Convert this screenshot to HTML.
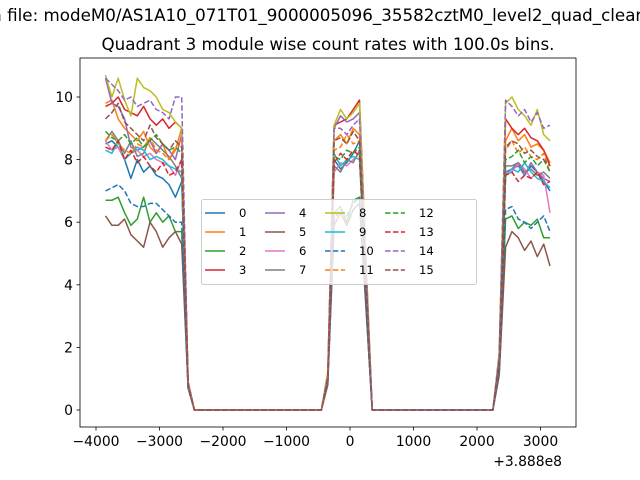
<!DOCTYPE html>
<html><head><meta charset="utf-8"><style>
html,body{margin:0;padding:0;background:#fff;}
svg{display:block;font-family:"DejaVu Sans","Liberation Sans",sans-serif;}
</style></head><body>
<svg id="chart" width="640" height="480" viewBox="0 0 640 480">
<rect x="0" y="0" width="640" height="480" fill="#fff"/>
<text x="320" y="21" font-size="16.7" text-anchor="middle">Data file: modeM0/AS1A10_071T01_9000005096_35582cztM0_level2_quad_clean.evt</text>
<text x="328" y="50" font-size="16.7" text-anchor="middle">Quadrant 3 module wise count rates with 100.0s bins.</text>
<g id="plot"></g>
<g id="axes"></g>
<g id="legend"></g>
<text x="562" y="466" font-size="13.9" text-anchor="end">+3.888e8</text>
</svg>
<script>
const times = [-3850,-3750,-3650,-3550,-3450,-3350,-3250,-3150,-3050,-2950,-2850,-2750,-2650,-2550,-2450,-2350,-2250,-2150,-2050,-1950,-1850,-1750,-1650,-1550,-1450,-1350,-1250,-1150,-1050,-950,-850,-750,-650,-550,-450,-350,-250,-150,-50,50,150,250,350,450,550,650,750,850,950,1050,1150,1250,1350,1450,1550,1650,1750,1850,1950,2050,2150,2250,2350,2450,2550,2650,2750,2850,2950,3050,3150];
const seriesNames = ["0","1","2","3","4","5","6","7","8","9","10","11","12","13","14","15"];
const left = [
[8.5,8.6,8.4,8.0,7.4,8.0,7.6,7.8,7.5,7.4,7.2,6.8,7.3],
[9.8,9.9,9.3,9.0,8.8,8.6,8.9,8.4,8.2,8.5,8.0,8.3,9.0],
[6.7,6.7,6.8,6.3,5.9,6.1,6.8,6.0,6.3,6.0,6.2,5.7,5.7],
[9.7,9.8,10.0,9.6,9.5,9.4,9.7,9.3,9.1,9.3,9.0,9.2,9.0],
[10.6,9.8,9.7,9.3,8.4,8.3,8.4,8.6,8.2,8.5,8.3,8.0,8.8],
[6.2,5.9,5.9,6.1,5.6,5.4,5.2,6.0,5.7,5.2,5.5,5.7,5.3],
[8.6,8.3,8.4,8.0,8.2,8.3,8.1,8.2,8.0,7.9,7.8,7.5,8.0],
[8.6,8.9,8.6,8.2,8.6,8.1,8.2,8.7,8.5,8.3,8.1,7.8,7.4],
[10.7,10.0,10.6,9.9,9.4,10.6,10.3,10.2,10.0,9.6,9.5,9.2,9.0],
[8.3,8.2,8.6,8.0,8.2,8.4,8.3,8.0,8.1,8.0,7.8,7.7,7.6],
[7.0,7.1,7.2,7.0,6.6,6.5,6.5,6.6,6.6,6.4,6.2,6.0,6.0],
[8.6,8.8,8.5,8.3,8.2,8.5,8.4,8.7,8.3,8.2,8.0,8.4,8.6],
[8.9,8.7,8.6,8.8,8.5,8.7,8.4,8.6,8.8,8.5,8.3,8.4,8.2],
[8.4,8.3,8.6,8.0,8.3,7.9,8.1,7.8,7.6,7.9,7.5,7.6,8.0],
[10.6,10.4,10.2,9.9,10.0,9.7,9.8,9.9,9.6,9.5,9.3,10.0,10.0],
[9.3,9.5,9.8,9.2,9.0,8.8,8.6,9.1,8.7,8.5,8.3,8.6,8.4]];
const dropLeft = [0.8,0.9,0.7,0.9,0.8,0.7,0.8,0.8,0.9,0.8,0.7,0.8,0.8,0.8,0.9,0.8];
const gapLeft = [0,0,0,0,0,0,0,0,0,0,0,0,0,0,0,0,0,0,0,0,0];
const riseMid = [1.0,1.1,0.9,1.2,1.1,0.8,1.0,1.0,1.2,1.0,0.9,1.1,1.0,1.0,1.1,1.0];
const mid = [
[8.0,7.7,7.9,8.2,8.6],[8.6,8.8,8.5,9.0,8.8],[6.3,6.5,6.0,6.7,6.8],[9.1,9.2,9.3,9.6,9.9],
[9.0,9.4,9.2,9.3,9.5],[5.9,6.3,5.9,6.4,6.6],[7.6,7.9,7.8,8.0,8.2],[7.8,7.6,8.0,7.9,8.3],
[9.1,9.6,9.3,9.5,9.8],[8.2,7.8,8.0,8.1,8.0],[6.1,6.4,6.2,6.6,6.8],[8.3,8.4,8.8,8.5,8.6],
[8.1,8.0,8.3,8.2,8.4],[7.9,8.2,8.0,8.3,8.1],[9.0,9.0,8.8,9.1,9.3],[8.6,8.7,8.5,8.9,8.6]];
const dropMid = [4.2,4.4,3.4,4.9,4.6,3.3,4.0,4.1,4.8,4.0,3.4,4.3,4.2,4.0,4.6,4.3];
const gapRight = [0,0,0,0,0,0,0,0,0,0,0,0,0,0,0,0,0,0,0,0];
const riseRight = [1.4,1.6,1.2,1.7,1.5,1.1,1.4,1.5,1.8,1.4,1.2,1.6,1.5,1.4,1.8,1.6];
const right = [
[7.6,7.7,7.9,7.5,7.8,7.6,7.3,7.0],[8.6,9.0,8.6,8.8,8.4,8.5,8.3,7.9],[6.1,6.2,5.8,6.0,5.9,6.1,5.5,5.5],
[9.3,9.0,8.8,9.0,8.7,8.6,8.3,7.8],[7.6,7.7,7.8,7.5,7.9,7.6,7.4,7.3],[5.2,5.7,5.5,5.1,5.4,4.9,5.3,4.6],
[7.5,7.6,7.9,7.7,7.4,7.6,7.5,6.3],[7.8,7.8,7.9,7.6,7.7,7.5,7.6,7.4],[9.8,10.0,9.6,9.4,9.1,9.6,8.8,8.6],
[7.5,7.7,7.6,7.9,7.6,7.4,7.3,7.1],[6.4,6.5,6.1,6.0,5.8,6.0,6.2,5.7],[8.3,8.6,8.2,8.4,8.1,8.0,8.2,7.6],
[8.0,8.1,8.3,7.9,8.1,7.8,8.0,7.6],[7.5,7.6,7.3,7.5,7.4,7.6,7.2,7.3],[9.9,9.7,9.4,9.6,9.2,9.5,9.0,9.1],
[8.4,8.6,8.5,8.2,8.3,8.1,8.0,7.8]];
const xTicks = [-4000,-3000,-2000,-1000,0,1000,2000,3000];
const xTickLabels = ["\u22124000","\u22123000","\u22122000","\u22121000","0","1000","2000","3000"];
const yTicks = [0,2,4,6,8,10];

const NS = "http://www.w3.org/2000/svg";
const colors = ["#1f77b4","#ff7f0e","#2ca02c","#d62728","#9467bd","#8c564b","#e377c2","#7f7f7f","#bcbd22","#17becf","#1f77b4","#ff7f0e","#2ca02c","#d62728","#9467bd","#8c564b"];
const X0=80,X1=576,Y0=58,Y1=427;
function xs(v){return 350 + v*0.0635;}
function ys(v){return 410 - v*31.3;}
const plot=document.getElementById('plot'), axes=document.getElementById('axes'), legend=document.getElementById('legend');
function mk(tag,attrs,parent){const e=document.createElementNS(NS,tag);for(const k in attrs)e.setAttribute(k,attrs[k]);parent.appendChild(e);return e;}

for(let s=0;s<16;s++){
  const vals=[].concat(left[s],[dropLeft[s]],gapLeft,[riseMid[s]],mid[s],[dropMid[s]],gapRight,[riseRight[s]],right[s]);
  const pts=times.map((t,i)=>xs(t).toFixed(1)+","+ys(vals[i]).toFixed(1)).join(" ");
  const p=mk('polyline',{points:pts,fill:'none',stroke:colors[s],'stroke-width':1.5,'stroke-linejoin':'round'},plot);
  if(s>=10)p.setAttribute('stroke-dasharray','5.5,2.4');
  
  
}
const frame=mk('rect',{x:X0,y:Y0,width:X1-X0,height:Y1-Y0,fill:'none',stroke:'#000','stroke-width':0.8},axes);


xTicks.forEach((t,i)=>{
  const x=xs(t);
  mk('line',{x1:x,x2:x,y1:Y1,y2:Y1+3.5,stroke:'#000','stroke-width':0.8},axes);
  const tx=mk('text',{x:x,y:Y1+19,'font-size':13.9,'text-anchor':'middle'},axes);
  tx.textContent=xTickLabels[i];
  
  
});
yTicks.forEach(t=>{
  const y=ys(t);
  mk('line',{x1:X0-3.5,x2:X0,y1:y,y2:y,stroke:'#000','stroke-width':0.8},axes);
  const tx=mk('text',{x:X0-7,y:y+5,'font-size':13.9,'text-anchor':'end'},axes);
  tx.textContent=String(t);
  
  
});
mk('rect',{x:201.5,y:199.5,width:275,height:85,rx:2,fill:'#fff','fill-opacity':0.8,stroke:'#ccc','stroke-width':1},legend);
for(let s=0;s<16;s++){
  const c=Math.floor(s/4), r=s%4;
  const lx=205+c*60, ly=213+r*19;
  const l=mk('line',{x1:lx,x2:lx+20,y1:ly,y2:ly,stroke:colors[s],'stroke-width':1.5},legend);
  if(s>=10)l.setAttribute('stroke-dasharray','5.5,2.4');
  const t=mk('text',{x:lx+34,y:ly+4,'font-size':11.6},legend);
  t.textContent=seriesNames[s];
  
  
}
</script>
</body></html>
